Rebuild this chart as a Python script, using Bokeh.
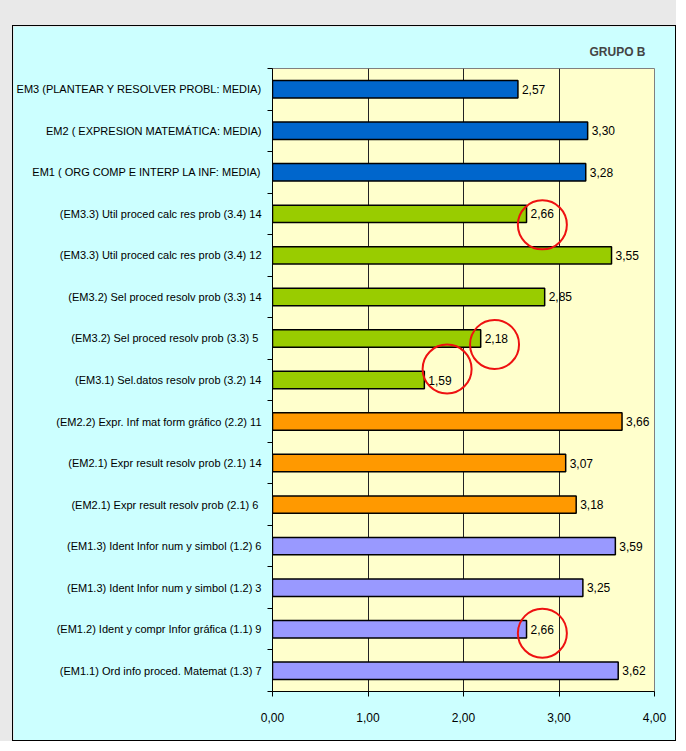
from bokeh.plotting import figure
from bokeh.models import ColumnDataSource, FixedTicker, Range1d, Title
from bokeh.layouts import column
from bokeh.embed import file_html
from bokeh.resources import INLINE
from bokeh.core.properties import value

# ---- data (top to bottom as in the chart) ----
categories = [
    "EM3 (PLANTEAR Y RESOLVER PROBL: MEDIA)",
    "EM2 ( EXPRESION MATEMÁTICA: MEDIA)",
    "EM1 ( ORG COMP E INTERP LA INF: MEDIA)",
    "(EM3.3) Util proced calc res prob (3.4) 14",
    "(EM3.3) Util proced calc res prob (3.4) 12",
    "(EM3.2) Sel proced resolv prob (3.3) 14",
    "(EM3.2) Sel proced resolv prob (3.3)  5",
    "(EM3.1) Sel.datos resolv prob (3.2) 14",
    "(EM2.2) Expr. Inf mat form gráfico (2.2) 11",
    "(EM2.1) Expr result resolv prob (2.1) 14",
    "(EM2.1) Expr result resolv prob (2.1)  6",
    "(EM1.3) Ident Infor num y simbol (1.2) 6",
    "(EM1.3) Ident Infor num y simbol (1.2) 3",
    "(EM1.2) Ident y compr Infor gráfica (1.1) 9",
    "(EM1.1) Ord info proced. Matemat (1.3) 7",
]
values = [2.57, 3.30, 3.28, 2.66, 3.55, 2.85, 2.18, 1.59, 3.66, 3.07, 3.18, 3.59, 3.25, 2.66, 3.62]
groups = ["MEDIA"] * 3 + ["EM3"] * 5 + ["EM2"] * 3 + ["EM1"] * 4
highlighted = [3, 6, 7, 13]  # rows whose value label is circled in red
x_ticks = [0, 1, 2, 3, 4]
x_tick_labels = ["0,00", "1,00", "2,00", "3,00", "4,00"]
chart_title = "GRUPO B"

# ---- styles ----
group_colors = {"MEDIA": "#0066cc", "EM3": "#99cc00", "EM2": "#ff9900", "EM1": "#9999ff"}
FONT = "Liberation Sans"
W, H = 664, 716
BL, BR, BT, BB = 255, 23, 42, 51
frame_w, frame_h = W - BL - BR, H - BT - BB

n = len(categories)
ypos = [i + 0.5 for i in range(n)]
src = ColumnDataSource(dict(
    y=ypos,
    val=values,
    color=[group_colors[g] for g in groups],
    lbl=[f"{v:.2f}".replace(".", ",") for v in values],
))

p = figure(width=W, height=H,
           x_range=Range1d(x_ticks[0], x_ticks[-1]),
           y_range=Range1d(n, 0),
           output_backend="svg", toolbar_location=None,
           min_border_left=BL, min_border_right=BR,
           min_border_top=BT, min_border_bottom=BB,
           background_fill_color="#ffffcc", border_fill_color="#ccffff",
           outline_line_color="#808080", outline_line_width=1)

p.hbar(y="y", left=0, right="val", height=0.42, fill_color="color",
       line_color="black", line_width=1.5, source=src)

p.text(x="val", y="y", text="lbl", x_offset=4, text_baseline="middle",
       text_align="left", text_font_size="12px", text_color="black",
       text_font=value(FONT), source=src)

# red annotation circles around some value labels
px_x = frame_w / (x_ticks[-1] - x_ticks[0])
px_y = frame_h / n
circle_dx = [16, 14, 23, 16]
circle_dy = [11, 6, -11, 4]
cx = [values[i] + dx / px_x for i, dx in zip(highlighted, circle_dx)]
cy = [ypos[i] + dy / px_y for i, dy in zip(highlighted, circle_dy)]
p.scatter(x=cx, y=cy, marker="circle", size=49, fill_color=None,
          line_color="#ee1111", line_width=2)

# x axis
xa = p.xaxis[0]
xa.ticker = FixedTicker(ticks=x_ticks)
xa.major_label_overrides = {t: l for t, l in zip(x_ticks, x_tick_labels)}
xa.major_tick_in = 0
xa.major_tick_out = 5
xa.minor_tick_line_color = None
xa.axis_line_color = "black"
xa.major_tick_line_color = "black"
xa.major_label_standoff = 16
xa.major_label_text_font_size = "12px"
xa.major_label_text_font = FONT
xa.major_label_text_color = "black"

# y axis
ya = p.yaxis[0]
ya.ticker = FixedTicker(ticks=ypos, minor_ticks=[float(i) for i in range(n + 1)])
ya.major_label_overrides = {y: c for y, c in zip(ypos, categories)}
ya.major_tick_line_color = None
ya.major_tick_in = 0
ya.major_tick_out = 0
ya.minor_tick_in = 0
ya.minor_tick_out = 5
ya.minor_tick_line_color = "black"
ya.axis_line_color = "black"
ya.major_label_standoff = 6
ya.major_label_text_font_size = "11px"
ya.major_label_text_font = FONT
ya.major_label_text_color = "black"

# grid
p.xgrid.ticker = FixedTicker(ticks=x_ticks[1:-1])
p.xgrid.grid_line_color = "#222222"
p.xgrid.grid_line_width = 1
p.ygrid.visible = False

p.title = Title(text=chart_title, align="right", text_font_size="12px",
                text_font_style="bold", text_font=FONT, offset=9, standoff=20)

p.margin = (25, 0, 0, 12)
p.styles = {"border": "1px solid black"}

page = column(p, styles={"background-color": "#e9e9e9"})

open("out.html", "w").write(file_html(page, INLINE))
